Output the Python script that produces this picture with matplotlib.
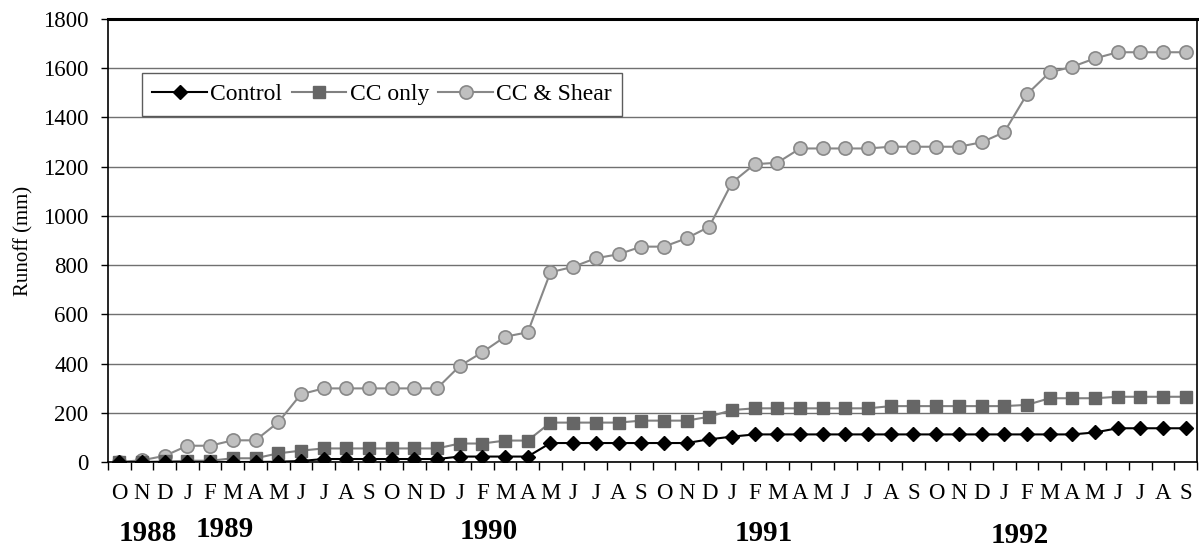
import matplotlib
matplotlib.use("Agg")
import matplotlib.pyplot as plt
import numpy as np

# month letters, Oct 1988 .. Sep 1992
months = (['O', 'N', 'D']
          + ['J', 'F', 'M', 'A', 'M', 'J', 'J', 'A', 'S', 'O', 'N', 'D'] * 3
          + ['J', 'F', 'M', 'A', 'M', 'J', 'J', 'A', 'S'])

control = [0, 0, 0,
           0, 0, 0, 0, 1, 4, 12, 12, 12, 12, 12, 12,
           22, 22, 22, 22, 77, 77, 77, 77, 77, 77, 77, 92,
           103, 112, 112, 112, 112, 112, 112, 112, 112, 112, 112, 112,
           112, 112, 112, 112, 120, 137, 137, 137, 137]

cc_only = [0, 0, 2,
           5, 5, 15, 15, 35, 46, 55, 55, 55, 55, 55, 55,
           75, 75, 87, 87, 160, 160, 160, 160, 168, 168, 168, 184,
           211, 218, 218, 218, 218, 218, 218, 227, 227, 227, 227, 227,
           227, 232, 259, 259, 259, 265, 265, 265, 265]

cc_shear = [0, 7, 25,
            66, 66, 88, 88, 161, 275, 299, 299, 299, 299, 299, 299,
            390, 446, 509, 527, 771, 793, 828, 844, 875, 875, 909, 956,
            1135, 1210, 1216, 1274, 1274, 1274, 1274, 1281, 1281, 1281, 1281, 1299,
            1340, 1494, 1583, 1606, 1640, 1665, 1665, 1665, 1665]

years = ['1988', '1989', '1990', '1991', '1992']

plt.rcParams['font.family'] = ['Liberation Serif', 'DejaVu Serif']

fig = plt.figure(figsize=(11.99, 5.53), dpi=100)
ax = fig.add_axes([0.0901, 0.1646, 0.9083, 0.801])

x = np.arange(len(months))
ax.plot(x, control, color='black', lw=1.5, marker='D', ms=7.5,
        mfc='black', mec='black', label='Control', zorder=4)
ax.plot(x, cc_only, color='#808080', lw=1.5, marker='s', ms=8.5,
        mfc='#666666', mec='#666666', label='CC only', zorder=3)
ax.plot(x, cc_shear, color='#888888', lw=1.5, marker='o', ms=9.5,
        mfc='#c0c0c0', mec='#888888', mew=1.2, label='CC & Shear', zorder=2)

ax.set_xlim(-0.5, len(months) - 0.5)
ax.set_ylim(0, 1800)
ax.set_yticks(np.arange(0, 1801, 200))
ax.yaxis.grid(True, color='#707070', lw=1)
ax.set_axisbelow(True)
ax.tick_params(axis='y', direction='out', length=5, width=1, pad=9, labelsize=16.5)

# tick marks between months, labels centred on months
ax.set_xticks(np.arange(-0.5, len(months), 1))
ax.set_xticklabels([])
ax.set_xticks(x, minor=True)
ax.set_xticklabels(months, minor=True)
ax.tick_params(axis='x', which='major', direction='out', length=6, width=1)
ax.tick_params(axis='x', which='minor', length=0, pad=15, labelsize=16.5)

for side in ['left', 'bottom', 'right']:
    ax.spines[side].set_color('black')
    ax.spines[side].set_linewidth(1.2)
ax.spines['top'].set_linewidth(2.2)

ax.set_ylabel('Runoff (mm)', fontsize=15, labelpad=7)

# year labels under the month letters
year_at = [1.25, 4.65, 16.3, 28.4, 39.7]
year_y = [-0.162, -0.153, -0.158, -0.161, -0.167]
for yr, xp, yp in zip(years, year_at, year_y):
    ax.text(xp, yp, yr, transform=ax.get_xaxis_transform(), ha='center',
            va='center', fontsize=21, fontweight='bold')

leg = ax.legend(loc='upper left', bbox_to_anchor=(0.031, 0.878), ncol=3,
                frameon=True, fancybox=False, borderaxespad=0, fontsize=17,
                handlelength=2.3, handletextpad=0.15, columnspacing=0.4,
                borderpad=0.45)
leg.get_frame().set_edgecolor('#333333')
leg.get_frame().set_linewidth(1)

fig.savefig('out.png', dpi=100)
